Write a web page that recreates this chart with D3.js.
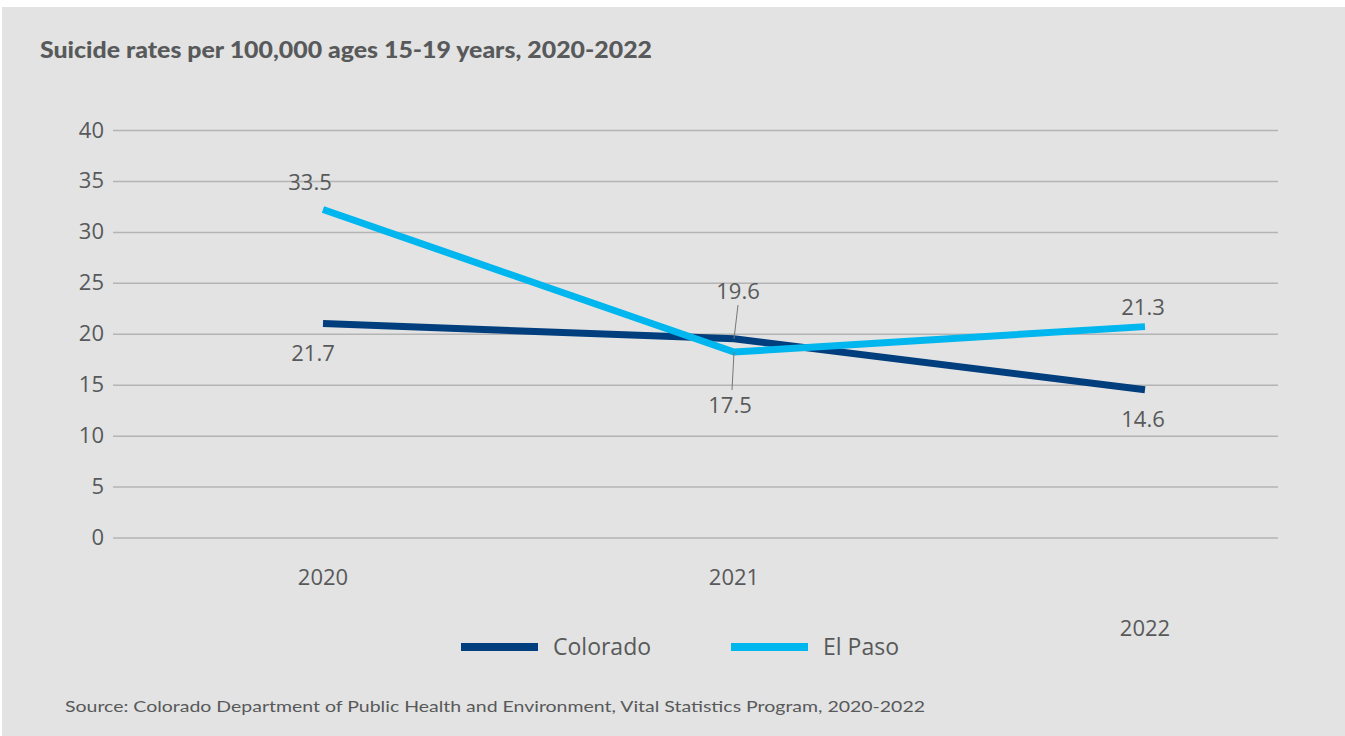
<!DOCTYPE html>
<html>
<head>
<meta charset="utf-8">
<script src="https://cdn.jsdelivr.net/npm/d3@7"></script>
<style>
  body { margin: 0; background: #fff; }
  #svg-container { width: 1345px; height: 736px; }
  text { fill: #58595b; }
</style>
</head>
<body>
<div id="svg-container"></div>
<script>
// data
const years = ["2020", "2021", "2022"];
const yTicks = [0, 5, 10, 15, 20, 25, 30, 35, 40];
const coloradoValues = [21.0, 19.5, 14.5];
const elPasoValues = [32.2, 18.2, 20.7];
const coloradoLabels = ["21.7", "19.6", "14.6"];
const elPasoLabels = ["33.5", "17.5", "21.3"];
const seriesNames = ["Colorado", "El Paso"];
const seriesColors = ["#003e7e", "#00b6ee"];

const width = 1345;
const height = 736;
const fontSize = 22;

const svg = d3.select("#svg-container").append("svg")
  .attr("width", width).attr("height", height);

// panel background
svg.append("rect")
  .attr("x", 2).attr("y", 7)
  .attr("width", width - 2).attr("height", height - 7)
  .attr("fill", "#e2e3e2");

// title
svg.append("text")
  .attr("x", 40).attr("y", 58)
  .attr("font-family", "Lato")
  .attr("font-weight", 900)
  .attr("font-size", 22)
  .attr("textLength", 612)
  .attr("lengthAdjust", "spacingAndGlyphs")
  .attr("fill", "#505153")
  .text("Suicide rates per 100,000 ages 15-19 years, 2020-2022");

// scales
const xScale = d3.scalePoint().domain(years).range([323, 1145]);
const yScale = d3.scaleLinear().domain([0, 40]).range([537.5, 130]);

// grid + y axis
const yAxis = d3.axisLeft(yScale)
  .tickValues(yTicks)
  .tickSize(-(1278 - 113))
  .tickPadding(9);

const gy = svg.append("g")
  .attr("transform", "translate(113,0)")
  .call(yAxis);
gy.select(".domain").remove();
gy.selectAll(".tick line").attr("stroke", "#b3b4b3").attr("stroke-width", 1.5);
gy.selectAll(".tick text")
  .attr("font-family", "Open Sans")
  .attr("font-size", fontSize)
  .attr("fill", "#58595b");

// x labels (2022 sits lower in the original)
svg.selectAll(".x-label")
  .data(years)
  .enter()
  .append("text")
  .attr("class", "x-label")
  .attr("x", (d) => xScale(d))
  .attr("y", (d, i) => (i === 2 ? 636 : 585))
  .attr("text-anchor", "middle")
  .attr("font-family", "Open Sans")
  .attr("font-size", fontSize)
  .text((d) => d);

// lines
const line = d3.line()
  .x((d, i) => xScale(years[i]))
  .y((d) => yScale(d));

[coloradoValues, elPasoValues].forEach((vals, k) => {
  svg.append("path")
    .datum(vals)
    .attr("d", line)
    .attr("fill", "none")
    .attr("stroke", seriesColors[k])
    .attr("stroke-width", 7);
});

// leader lines at 2021
svg.append("line")
  .attr("x1", xScale("2021") + 4).attr("y1", 305)
  .attr("x2", xScale("2021")).attr("y2", yScale(coloradoValues[1]))
  .attr("stroke", "#777").attr("stroke-width", 1);
svg.append("line")
  .attr("x1", xScale("2021")).attr("y1", yScale(elPasoValues[1]))
  .attr("x2", xScale("2021") - 2).attr("y2", 390)
  .attr("stroke", "#777").attr("stroke-width", 1);

// value labels
const labelOffsetsColorado = [[-10, 37], [4, -40], [-2, 37]];
const labelOffsetsElPaso = [[-13, -19], [-4, 61], [-2, -12]];

function addLabels(vals, labels, offsets) {
  svg.selectAll(null)
    .data(vals)
    .enter()
    .append("text")
    .attr("x", (d, i) => xScale(years[i]) + offsets[i][0])
    .attr("y", (d, i) => yScale(d) + offsets[i][1])
    .attr("text-anchor", "middle")
    .attr("font-family", "Open Sans")
    .attr("font-size", fontSize)
    .text((d, i) => labels[i]);
}
addLabels(coloradoValues, coloradoLabels, labelOffsetsColorado);
addLabels(elPasoValues, elPasoLabels, labelOffsetsElPaso);

// legend
const legendX = [461, 731];
seriesNames.forEach((name, i) => {
  svg.append("rect")
    .attr("x", legendX[i]).attr("y", 643)
    .attr("width", 77).attr("height", 8)
    .attr("fill", seriesColors[i]);
  svg.append("text")
    .attr("x", legendX[i] + 92).attr("y", 655)
    .attr("font-family", "Open Sans")
    .attr("font-size", 23)
    .text(name);
});

// source
svg.append("text")
  .attr("x", 65).attr("y", 712)
  .attr("font-family", "Lato")
  .attr("font-size", 16)
  .attr("textLength", 860)
  .attr("lengthAdjust", "spacingAndGlyphs")
  .text("Source: Colorado Department of Public Health and Environment, Vital Statistics Program, 2020-2022");
</script>
</body>
</html>
